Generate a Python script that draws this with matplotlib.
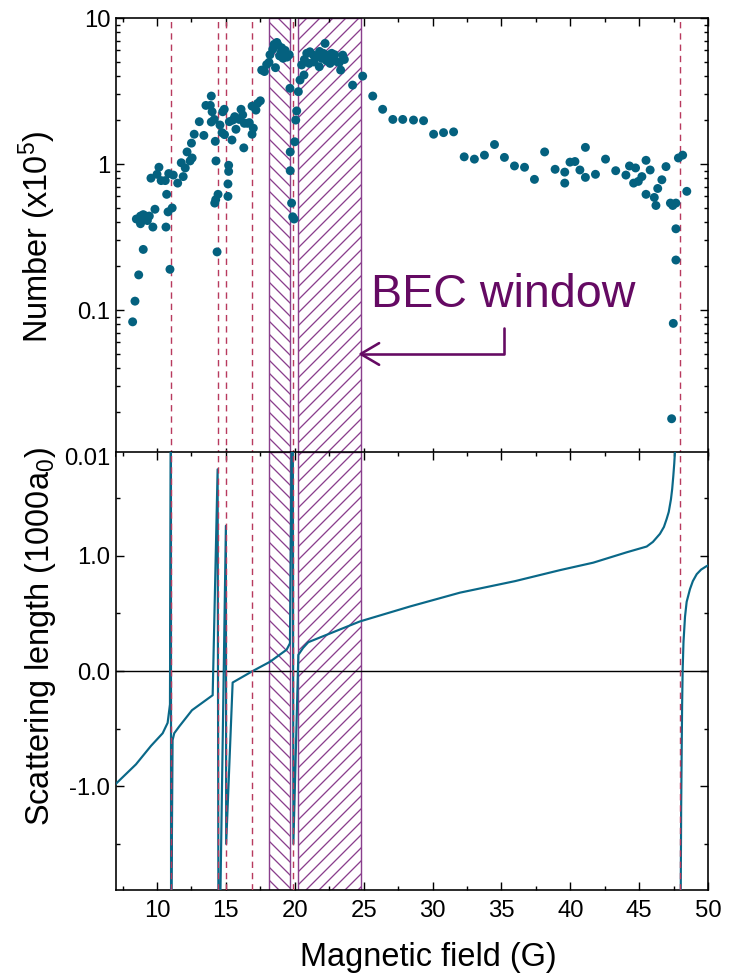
import numpy as np
import matplotlib
matplotlib.use("Agg")
import matplotlib.pyplot as plt
from matplotlib.ticker import MultipleLocator, FixedLocator, FixedFormatter, LogLocator, NullFormatter

plt.rcParams['font.family'] = ['Liberation Sans', 'DejaVu Sans']
plt.rcParams['mathtext.fontset'] = 'custom'
plt.rcParams['mathtext.rm'] = 'Liberation Sans'
plt.rcParams['mathtext.default'] = 'regular'
plt.rcParams['hatch.linewidth'] = 1.2

# atom number vs field (units of 1e5)
field_pts = [
    8.23, 8.4, 8.67, 9.0,
    8.5, 8.8, 9.0, 9.2, 9.44, 8.8, 9.13, 9.3,
    9.7, 9.85, 10.65, 10.94, 10.8, 11.1, 10.7,
    9.56, 10.0, 10.14, 10.3, 10.6, 10.85, 11.18,
    11.5, 11.9, 11.76, 12.05, 12.18, 12.4, 12.55, 12.5, 12.7, 13.4, 13.07,
    13.55, 13.87, 13.94, 14.0, 13.94, 14.16, 14.23, 14.28, 14.43, 14.26, 14.19, 14.36,
    14.57, 14.72, 14.9, 14.77, 14.88, 15.2, 15.2, 15.15, 15.15, 15.44, 15.25, 15.5,
    15.64, 15.73, 16.1, 16.22, 15.97, 16.3, 16.34, 16.58, 16.7, 16.9, 16.99, 16.9,
    17.18, 17.3, 17.5,
    17.6, 17.8, 17.96, 18.13, 18.2, 18.5, 18.8, 19.05, 19.3, 18.6, 18.9, 19.15,
    19.44, 19.6, 18.4, 18.7, 19.0,
    19.65, 20.26, 20.14, 20.07, 20.0, 19.67, 19.67, 19.77, 19.85, 19.95,
    20.38, 20.5, 20.67, 20.87, 21.1, 21.35, 21.6, 21.05, 21.78, 21.96, 22.2, 22.07,
    22.43, 22.68, 22.56, 22.85, 23.05, 23.23, 23.33, 23.48,
    20.7, 21.4, 22.3, 21.8, 22.9, 23.6,
    24.2, 24.93, 25.66, 26.38, 27.12, 27.84, 28.62, 29.35, 30.08, 30.8, 31.53,
    32.3, 33.04, 33.77, 34.5, 35.22, 35.95, 36.68, 37.4, 38.14, 38.9, 39.6, 39.6,
    39.98, 40.34, 40.7, 41.1, 41.1, 41.83, 42.56, 43.3, 44.04, 44.3, 44.74, 44.6,
    44.94, 45.2, 45.5, 45.8, 45.5, 46.1, 46.22, 46.35, 46.65, 46.95, 47.27, 47.44,
    47.67, 47.67, 47.67, 47.85, 48.16, 48.46, 47.48, 47.36,
]
number_pts = [
    0.083, 0.115, 0.174, 0.26,
    0.42, 0.44, 0.45, 0.44, 0.44, 0.39, 0.42, 0.41,
    0.37, 0.49, 0.37, 0.19, 0.47, 0.50, 0.62,
    0.80, 0.85, 0.95, 0.77, 0.77, 0.86, 0.84,
    0.74, 0.82, 1.02, 0.94, 1.21, 1.05, 1.10, 1.39, 1.60, 1.57, 1.95,
    2.52, 2.52, 2.92, 2.28, 1.94, 2.02, 1.43, 1.05, 0.62, 0.57, 0.54, 0.25,
    1.85, 1.64, 1.59, 2.28, 2.37, 0.98, 0.89, 0.73, 0.60, 1.46, 1.95, 2.0,
    2.11, 1.73, 2.37, 2.17, 2.02, 1.29, 1.90, 1.90, 1.92, 1.60, 1.76, 2.49,
    2.34, 2.60, 2.71,
    4.4, 4.3, 4.8, 4.97, 5.6, 6.6, 6.5, 6.25, 6.0, 4.57, 5.5, 5.3,
    5.4, 5.6, 6.1, 6.8, 5.8,
    3.3, 3.13, 2.31, 2.0, 1.42, 1.21, 0.90, 0.54, 0.435, 0.42,
    3.76, 4.77, 4.07, 5.73, 5.87, 5.57, 5.43, 4.89, 4.64, 5.29, 6.7, 5.73,
    5.57, 5.73, 4.89, 5.15, 5.03, 4.95, 4.4, 5.57,
    5.2, 5.0, 5.1, 5.9, 5.6, 5.2,
    3.47, 4.0, 2.92, 2.37, 2.02, 2.02, 2.0, 1.98, 1.60, 1.64, 1.66,
    1.12, 1.08, 1.15, 1.36, 1.11, 0.97, 0.95, 0.785, 1.21, 0.92, 0.88, 0.74,
    1.03, 1.04, 0.91, 1.30, 0.81, 0.85, 1.08, 0.90, 0.84, 0.97, 0.94, 0.74,
    0.76, 0.82, 1.06, 0.91, 0.62, 0.59, 0.52, 0.68, 0.78, 0.96, 0.54, 0.52,
    0.54, 0.36, 0.22, 1.10, 1.15, 0.65, 0.081, 0.018,
]

# scattering length curve (units of 1000 a0); nan breaks the line at 48 G
field_curve = [
    7.0, 8.47, 9.56, 10.41, 10.77, 10.94, 11.01, 11.02, 11.13, 11.25, 11.62, 12.54,
    14.04, 14.4, 14.47, 15.0, 15.02, 15.49, 16.95, 18.2, 19.41, 19.65, 19.85, 19.9,
    20.26, 20.6, 20.98, 24.73, 28.37, 32.0, 36.0, 39.25, 41.67, 44.1, 45.55, 46.0,
    46.51, 46.8, 47.0, 47.15, 47.31, 47.4, 47.48, 47.55, 47.6, 47.65, np.nan,
    48.01, 48.05, 48.09, 48.12, 48.16, 48.22, 48.33, 48.45, 48.69, 48.9,
    49.18, 49.5, 49.9, 50.0,
]
scat_length = [
    -0.98, -0.81, -0.65, -0.54, -0.45, -0.29, 2.5, -2.5, -0.6, -0.54, -0.48, -0.34,
    -0.21, 1.75, -3.0, 1.26, -1.5, -0.10, 0.0, 0.08, 0.185, 0.24, 3.0, -1.5,
    0.14, 0.20, 0.25, 0.43, 0.56, 0.68, 0.78, 0.875, 0.94, 1.03, 1.08, 1.12,
    1.19, 1.25, 1.32, 1.38, 1.49, 1.58, 1.69, 1.80, 1.90, 2.2, np.nan,
    -2.2, -1.2, -0.68, -0.3, 0.01, 0.25, 0.47, 0.60, 0.71, 0.78,
    0.84, 0.88, 0.91, 0.915,
]

resonances = [11.0, 14.4, 15.0, 16.9, 19.9, 48.0]
bec_windows = [(18.15, 19.65, '\\\\'), (20.25, 24.8, '//')]

teal = '#04617f'
curve_col = '#0a6888'
red = '#b83a5e'
purple = '#8a3f8d'
text_purple = '#650a63'

DPI = 78
fig = plt.figure(figsize=(729 / DPI, 979 / DPI), dpi=DPI)
ax1 = fig.add_axes([0.1587, 0.5342, 0.8125, 0.4474])
ax2 = fig.add_axes([0.1587, 0.0909, 0.8125, 0.4474])
ax1.patch.set_alpha(0)

for ax in (ax1, ax2):
    for lo, hi, hatch in bec_windows:
        ax.axvspan(lo, hi, facecolor='none', edgecolor=purple, hatch=hatch, lw=1.3, zorder=1)
    for b in resonances:
        ax.axvline(b, color=red, lw=1.3, ls=(0, (4.5, 3.5)), zorder=4)
    ax.set_xlim(7, 50)
    ax.xaxis.set_major_locator(MultipleLocator(5))
    ax.xaxis.set_minor_locator(MultipleLocator(2.5))
    ax.tick_params(which='both', direction='in', top=True, right=True, labelsize=22, width=1.3)
    ax.tick_params(which='major', length=7)
    ax.tick_params(which='minor', length=4)
    ax.tick_params(axis='x', pad=9)
    ax.tick_params(axis='y', pad=5)
    for s in ax.spines.values():
        s.set_linewidth(1.5)

# top: atom number
ax1.scatter(field_pts, number_pts, s=68, color=teal, edgecolors='none', zorder=5)
ax1.set_yscale('log')
ax1.set_ylim(0.01, 10)
ax1.yaxis.set_major_locator(FixedLocator([0.01, 0.1, 1, 10]))
ax1.yaxis.set_major_formatter(FixedFormatter(['0.01', '0.1', '1', '10']))
ax1.yaxis.set_minor_locator(LogLocator(base=10, subs=np.arange(2, 10)))
ax1.yaxis.set_minor_formatter(NullFormatter())
ax1.tick_params(axis='x', labelbottom=False)
ax1.set_ylabel('Number (x10$^{5}$)', fontsize=30)
ax1.yaxis.set_label_coords(-0.097, 0.5)

ax1.text(25.5, 0.105, 'BEC window', fontsize=43, color=text_purple, ha='left', va='baseline')
ax1.annotate('', xy=(24.6, 0.05), xytext=(35.19, 0.0756),
             arrowprops=dict(arrowstyle='->,head_length=17,head_width=10', mutation_scale=1,
                             connectionstyle='angle,angleA=90,angleB=0,rad=0',
                             color=text_purple, lw=2.4, shrinkA=0, shrinkB=0))

# bottom: scattering length
ax2.axhline(0, color='black', lw=1.3, zorder=2)
ax2.plot(field_curve, scat_length, color=curve_col, lw=2.0, zorder=3)
ax2.set_ylim(-1.9, 1.9)
ax2.yaxis.set_major_locator(FixedLocator([-1.0, 0.0, 1.0]))
ax2.yaxis.set_major_formatter(FixedFormatter(['-1.0', '0.0', '1.0']))
ax2.yaxis.set_minor_locator(MultipleLocator(0.5))
ax2.set_ylabel('Scattering length (1000a$_{0}$)', fontsize=30)
ax2.yaxis.set_label_coords(-0.097, 0.578)
ax2.set_xlabel('Magnetic field (G)', fontsize=30)
ax2.xaxis.set_label_coords(0.527, -0.118)

fig.savefig('out.png', dpi=DPI)
